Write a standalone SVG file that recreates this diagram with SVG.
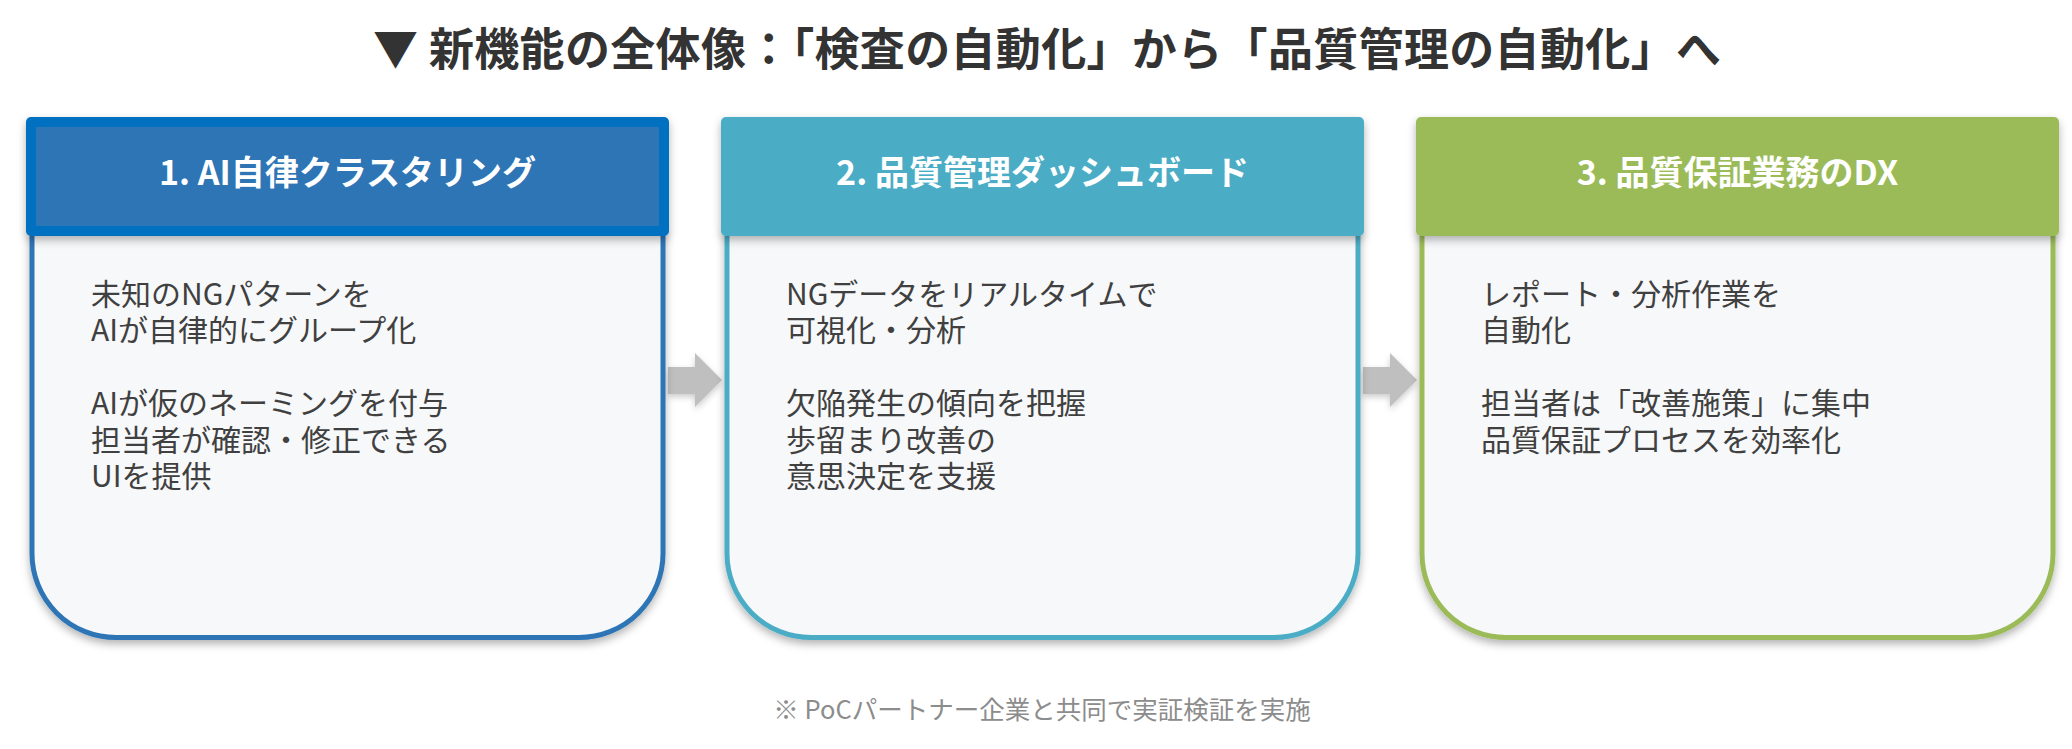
<svg xmlns="http://www.w3.org/2000/svg" width="2072" height="749" viewBox="0 0 2072 749">
  <style>
    .title { font-family: "Noto Sans CJK JP", "Noto Sans", sans-serif; font-weight: 700; font-size: 45px; fill: #333333; text-anchor: middle; }
    .htxt { font-family: "Noto Sans CJK JP", "Noto Sans", sans-serif; font-weight: 700; font-size: 34px; fill: #ffffff; text-anchor: middle; }
    .btxt { font-family: "Noto Sans CJK JP", "Noto Sans", sans-serif; font-weight: 400; font-size: 30px; fill: #404040; }
    .note { font-family: "Noto Sans CJK JP", "Noto Sans", sans-serif; font-weight: 400; font-size: 25.5px; fill: #8c8c8c; text-anchor: middle; }
    .body { fill: #f7f8fa; stroke-width: 5; filter: url(#shadow); }
    .arrow { fill: #bfbfbf; filter: url(#ashadow); }
  </style>
  <defs>
    <filter id="shadow" x="-10%" y="-10%" width="120%" height="125%">
      <feDropShadow dx="0" dy="4" stdDeviation="4" flood-color="#000" flood-opacity="0.3"/>
    </filter>
    <filter id="ashadow" x="-30%" y="-30%" width="160%" height="160%">
      <feDropShadow dx="0" dy="3" stdDeviation="3" flood-color="#000" flood-opacity="0.2"/>
    </filter>
  </defs>
  <rect width="2072" height="749" fill="#ffffff"/>

  <text class="title" x="1047" y="66" textLength="1348" lengthAdjust="spacing">▼ 新機能の全体像：「検査の自動化」から「品質管理の自動化」へ</text>

  <g id="connectors">
    <path class="arrow" d="M668,367 H695 V353 L722,380 L695,407 V394 H668 Z"/>
    <path class="arrow" d="M1363,367 H1390 V353 L1417,380 L1390,407 V394 H1363 Z"/>
  </g>

  <g id="node1">
    <path class="body" stroke="#2e75b6" d="M32,232 V553.5 A84,84 0 0 0 116,637.5 H579 A84,84 0 0 0 663,553.5 V232 Z"/>
    <rect x="26" y="117" width="643" height="119" rx="5" fill="#0070c0" filter="url(#shadow)"/>
    <rect x="36" y="127" width="623" height="99" fill="#2e75b6"/>
    <text class="htxt" x="347.5" y="185">1. AI自律クラスタリング</text>
    <text class="btxt" x="91" y="304.5">未知のNGパターンを</text>
    <text class="btxt" x="91" y="341">AIが自律的にグループ化</text>
    <text class="btxt" x="91" y="414">AIが仮のネーミングを付与</text>
    <text class="btxt" x="91" y="450.5">担当者が確認・修正できる</text>
    <text class="btxt" x="91" y="487">UIを提供</text>
  </g>

  <g id="node2">
    <path class="body" stroke="#4bacc6" d="M727,232 V553.5 A84,84 0 0 0 811,637.5 H1274 A84,84 0 0 0 1358,553.5 V232 Z"/>
    <rect x="721" y="117" width="643" height="119" rx="5" fill="#4bacc6" filter="url(#shadow)"/>
    <text class="htxt" x="1042.5" y="185">2. 品質管理ダッシュボード</text>
    <text class="btxt" x="786" y="304.5">NGデータをリアルタイムで</text>
    <text class="btxt" x="786" y="341">可視化・分析</text>
    <text class="btxt" x="786" y="414">欠陥発生の傾向を把握</text>
    <text class="btxt" x="786" y="450.5">歩留まり改善の</text>
    <text class="btxt" x="786" y="487">意思決定を支援</text>
  </g>

  <g id="node3">
    <path class="body" stroke="#9bbb59" d="M1422,232 V553.5 A84,84 0 0 0 1506,637.5 H1969 A84,84 0 0 0 2053,553.5 V232 Z"/>
    <rect x="1416" y="117" width="643" height="119" rx="5" fill="#9bbb59" filter="url(#shadow)"/>
    <text class="htxt" x="1737.5" y="185">3. 品質保証業務のDX</text>
    <text class="btxt" x="1481" y="304.5">レポート・分析作業を</text>
    <text class="btxt" x="1481" y="341">自動化</text>
    <text class="btxt" x="1481" y="414">担当者は「改善施策」に集中</text>
    <text class="btxt" x="1481" y="450.5">品質保証プロセスを効率化</text>
  </g>

  <text class="note" x="1042" y="719">※ PoCパートナー企業と共同で実証検証を実施</text>
</svg>
